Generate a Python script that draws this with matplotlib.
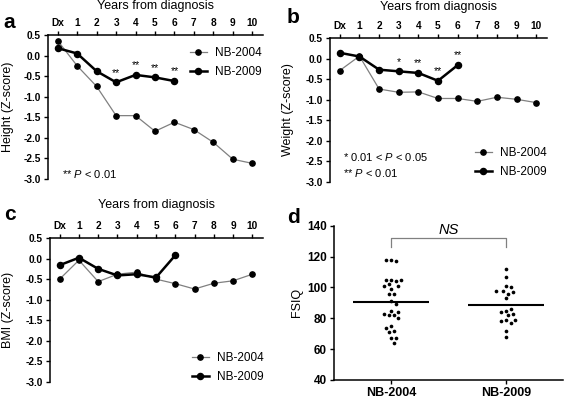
import numpy as np
import matplotlib
matplotlib.use("Agg")
import matplotlib.pyplot as plt

plt.rcParams['font.family'] = ['Liberation Sans', 'DejaVu Sans']
plt.rcParams['axes.unicode_minus'] = False
plt.rcParams['mathtext.fontset'] = 'custom'
plt.rcParams['mathtext.it'] = 'Liberation Sans:italic'
plt.rcParams['mathtext.rm'] = 'Liberation Sans'

# data
years = list(range(11))
year_labels = ['Dx', '1', '2', '3', '4', '5', '6', '7', '8', '9', '10']
years_2009 = years[:7]

height_2004 = [0.36, -0.25, -0.75, -1.46, -1.46, -1.84, -1.62, -1.80, -2.11, -2.52, -2.62]
height_2009 = [0.18, 0.05, -0.38, -0.65, -0.47, -0.53, -0.62]
weight_2004 = [-0.29, 0.06, -0.74, -0.82, -0.81, -0.97, -0.97, -1.04, -0.94, -0.99, -1.07]
weight_2009 = [0.14, 0.05, -0.27, -0.31, -0.35, -0.54, -0.16]
bmi_2004 = [-0.50, -0.04, -0.56, -0.38, -0.33, -0.50, -0.61, -0.74, -0.60, -0.54, -0.38]
bmi_2009 = [-0.16, 0.02, -0.25, -0.41, -0.38, -0.46, 0.08]

sig_years = [3, 4, 5, 6]
height_sig = ['**', '**', '**', '**']
weight_sig = ['*', '**', '**', '**']

groups = ['NB-2004', 'NB-2009']
fsiq_2004 = [118, 117, 118, 105, 104, 105, 105, 102, 99, 101, 101, 96, 96, 91,
             89, 85, 82, 82, 80, 83, 84, 75, 72, 74, 71, 67, 67, 64]
fsiq_2009 = [112, 107, 101, 100, 98, 96, 97, 98, 93, 85, 86, 84, 82, 83,
             79, 77, 78, 79, 72, 68]

GRAY = '#808080'
W, H = 567, 401


def fig_rect(left, top, right, bottom):
    # pixel box -> figure fraction
    return [left / W, 1 - bottom / H, (right - left) / W, (bottom - top) / H]


fig = plt.figure(figsize=(W / 100, H / 100), dpi=100)


def growth_panel(rect, v2004, v2009, ylabel, ylab_xy, letter, letter_xy, title_y):
    ax = fig.add_axes(rect)
    ax.plot(years, v2004, color=GRAY, lw=0.9, marker='o', ms=3.8, mfc='k', mec='k',
            label='NB-2004', clip_on=False, zorder=3)
    ax.plot(years_2009, v2009, color='k', lw=1.8, marker='o', ms=4.4,
            label='NB-2009', clip_on=False, zorder=4)
    ax.set_xlim(-0.5, 10.55)
    ax.set_ylim(-3.0, 0.5)
    ax.xaxis.tick_top()
    ax.spines['bottom'].set_visible(False)
    ax.spines['right'].set_visible(False)
    for s in ('top', 'left'):
        ax.spines[s].set_linewidth(1.1)
    ax.set_xticks(years, year_labels)
    ax.set_yticks(np.arange(-3.0, 0.51, 0.5))
    ax.yaxis.set_major_formatter('{x:.1f}')
    ax.tick_params(length=3, width=1.0, pad=2, labelsize=7.3)
    for lab in ax.get_xticklabels() + ax.get_yticklabels():
        lab.set_fontweight('bold')
    ax.text(0.5, title_y, 'Years from diagnosis', transform=ax.transAxes,
            ha='center', va='center', fontsize=9)
    fig.text(ylab_xy[0] / W, 1 - ylab_xy[1] / H, ylabel, rotation=90,
             ha='center', va='center', fontsize=9)
    fig.text(letter_xy[0] / W, 1 - letter_xy[1] / H, letter, ha='left',
             va='baseline', fontsize=15, fontweight='bold')
    return ax


def add_legend(ax, x, y):
    ax.legend(loc='center left', bbox_to_anchor=(x / W, 1 - y / H),
              bbox_transform=fig.transFigure, frameon=False, fontsize=8.5,
              borderpad=0, borderaxespad=0, handlelength=1.4,
              handletextpad=0.7, labelspacing=0.6)


# panel a
ax_a = growth_panel(fig_rect(48, 35, 263, 179), height_2004, height_2009,
                    'Height (Z-score)', (8, 107), 'a', (3, 28), 1.2)
add_legend(ax_a, 190, 62.5)
for yr, s in zip(sig_years, height_sig):
    ax_a.annotate(s, (yr, height_2009[yr]), xytext=(0, 7), textcoords='offset points',
                  ha='center', va='center', fontsize=7.5)
ax_a.text(0.24, -2.88, '** $P$ < 0.01', ha='left', va='center', fontsize=8)

# panel b
ax_b = growth_panel(fig_rect(330, 38, 547, 182), weight_2004, weight_2009,
                    'Weight (Z-score)', (288, 110), 'b', (287, 23), 1.216)
add_legend(ax_b, 475, 162.5)
for yr, s in zip(sig_years, weight_sig):
    ax_b.annotate(s, (yr, weight_2009[yr]), xytext=(0, 7), textcoords='offset points',
                  ha='center', va='center', fontsize=7.5)
ax_b.text(0.17, -2.39, '* 0.01 < $P$ < 0.05', ha='left', va='center', fontsize=8)
ax_b.text(0.17, -2.79, '** $P$ < 0.01', ha='left', va='center', fontsize=8)

# panel c
ax_c = growth_panel(fig_rect(50, 238, 263, 382), bmi_2004, bmi_2009,
                    'BMI (Z-score)', (8, 310), 'c', (4, 220), 1.227)
add_legend(ax_c, 192, 367.5)

# panel d
left, top, right, bottom = 334, 225.7, 563, 380
ax_d = fig.add_axes(fig_rect(left, top, right, bottom))
ax_d.set_xlim(-0.5, 1.5)
ax_d.set_ylim(40, 140)
px_x = (right - left) / 2.0
px_y = (bottom - top) / 100.0


def swarm(vals, dmin=4.8, step=2.4):
    placed = []
    offs = []
    cands = [0.0]
    for k in range(1, 12):
        cands += [k * step, -k * step]
    for v in vals:
        yv = v * px_y
        for c in cands:
            if all((c - px) ** 2 + (yv - py) ** 2 >= dmin ** 2 for px, py in placed):
                placed.append((c, yv))
                offs.append(c / px_x)
                break
    return np.array(offs)


for i, vals in enumerate([fsiq_2004, fsiq_2009]):
    xs = i + swarm(vals)
    ax_d.scatter(xs, vals, s=7, color='k', lw=0, zorder=3)
    ax_d.hlines(np.mean(vals), i - 0.33, i + 0.33, color='k', lw=1.5, zorder=4)

ns_y = max(fsiq_2004 + fsiq_2009) + 14
ax_d.plot([0, 0, 1, 1], [ns_y - 6, ns_y, ns_y, ns_y - 6], color=GRAY, lw=0.9)
ax_d.text(0.5, ns_y + 1.0, 'NS', style='italic', ha='center', va='bottom', fontsize=10.5)

ax_d.set_xticks([0, 1], groups)
ax_d.set_yticks(range(40, 141, 20))
ax_d.spines['top'].set_visible(False)
ax_d.spines['right'].set_visible(False)
for s in ('bottom', 'left'):
    ax_d.spines[s].set_linewidth(1.1)
ax_d.tick_params(length=3, width=1.0, pad=2, labelsize=8.5)
ax_d.tick_params(axis='x', labelsize=9)
for lab in ax_d.get_xticklabels() + ax_d.get_yticklabels():
    lab.set_fontweight('bold')
fig.text(297 / W, 1 - 302 / H, 'FSIQ', rotation=90, ha='center', va='center', fontsize=9)
fig.text(287 / W, 1 - 223 / H, 'd', ha='left', va='baseline', fontsize=15, fontweight='bold')

fig.savefig('out.png', dpi=100)
